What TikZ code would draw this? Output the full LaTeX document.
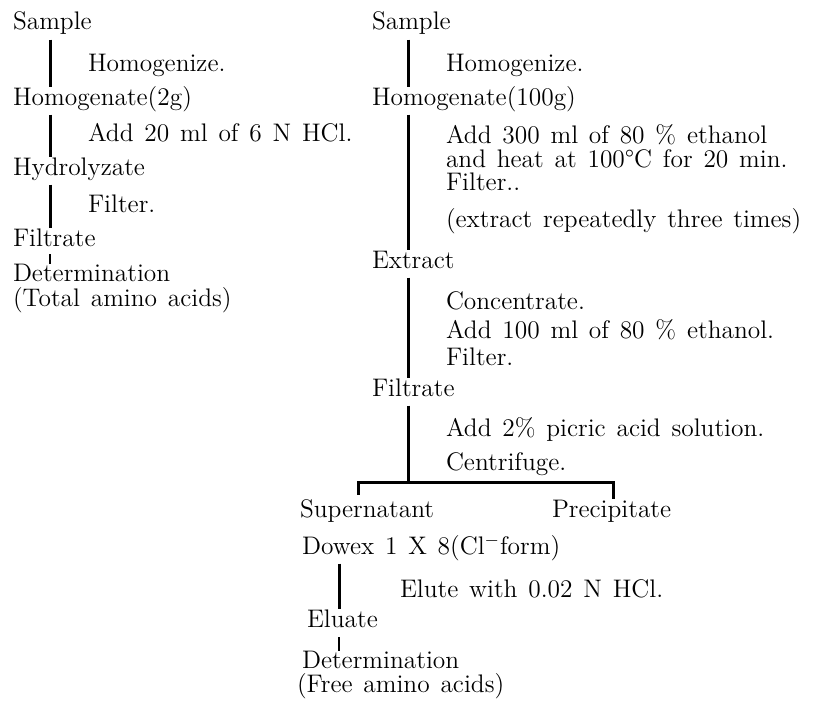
\documentclass[tikz,border=0pt]{standalone}
\newcommand\flowfont{\fontsize{12.7}{15}\selectfont\spaceskip=5.4pt plus 1pt minus 1pt\relax}
\begin{document}
\begin{tikzpicture}[x=0.5pt,y=-0.5pt,
	txt/.style={anchor=base west,inner sep=0pt,outer sep=0pt,
		font=\flowfont,text height=8.6pt,text depth=2.2pt},
	flow/.style={line width=1.5pt,shorten <=2.6pt,shorten >=0.5pt},
	tick/.style={line width=1pt}]
	\useasboundingbox (0,0) rectangle (824,701);
	\coordinate (colL) at (50,0);
	\coordinate (colR) at (408,0);
	\coordinate (colE) at (339,0);
	% total amino acids
	\node[txt] (sampleL) at (13,30) {Sample};
	\node[txt] (homzL) at (88,72) {Homogenize.};
	\node[txt] (homL) at (13,105) {Homogenate(2g)};
	\node[txt] (hclL) at (88,141) {Add 20 ml of 6 N HCl.};
	\node[txt] (hydL) at (13,175) {Hydrolyzate};
	\node[txt] (filterL) at (88,212) {Filter.};
	\node[txt] (filtL) at (13,246) {Filtrate};
	\node[txt] (detL) at (13,281) {Determination};
	\node[txt] (totL) at (13,306) {(Total amino acids)};
	\draw[flow] (sampleL.south -| colL) -- (homL.north -| colL);
	\draw[flow] (homL.south -| colL) -- (hydL.north -| colL);
	\draw[flow] (hydL.south -| colL) -- (filtL.north -| colL);
	\draw[tick,shorten <=2pt] (filtL.south -| colL) -- (detL.north -| colL);
	% free amino acids
	\node[txt] (sampleR) at (372,30) {Sample};
	\node[txt] (homzR) at (446,72) {Homogenize.};
	\node[txt] (homR) at (372,105) {Homogenate(100g)};
	\node[txt] (etohA) at (446,143) {Add 300 ml of 80 \% ethanol};
	\node[txt] (heat) at (446,167) {and heat at 100\textdegree{}C for 20 min.};
	\node[txt] (filterA) at (446,191) {Filter..};
	\node[txt] (repeat) at (446,227) {(extract repeatedly three times)};
	\node[txt] (extr) at (372,268) {Extract};
	\node[txt] (conc) at (446,309) {Concentrate.};
	\node[txt] (etohB) at (446,338) {Add 100 ml of 80 \% ethanol.};
	\node[txt] (filterB) at (446,365) {Filter.};
	\node[txt] (filtR) at (372,396) {Filtrate};
	\node[txt] (picric) at (446,436) {Add 2\% picric acid solution.};
	\node[txt] (centr) at (446,470) {Centrifuge.};
	\node[txt] (supN) at (300,517) {Supernatant};
	\node[txt] (precip) at (552,517) {Precipitate};
	\node[txt] (dowex) at (302,554) {Dowex 1 X 8(Cl$^-$form)};
	\node[txt] (elute) at (400,597) {Elute with 0.02 N HCl.};
	\node[txt] (eluate) at (307,627) {Eluate};
	\node[txt] (detR) at (302,668) {Determination};
	\node[txt] (freeR) at (297,692) {(Free amino acids)};
	\draw[flow] (sampleR.south -| colR) -- (homR.north -| colR);
	\draw[flow] (homR.south -| colR) -- (extr.north -| colR);
	\draw[flow] (extr.south -| colR) -- (filtR.north -| colR);
	\coordinate (brL) at (358,482);
	\coordinate (brR) at (613,482);
	\draw[flow] (filtR.south -| colR) -- (colR |- brL);
	\draw[flow] (supN.north -| brL) -- (brL) -- (brR) -- (precip.north -| brR);
	\draw[flow] (dowex.south -| colE) -- (eluate.north -| colE);
	\draw[tick,shorten <=3pt] (eluate.south -| colE) -- (detR.north -| colE);
\end{tikzpicture}
\end{document}
